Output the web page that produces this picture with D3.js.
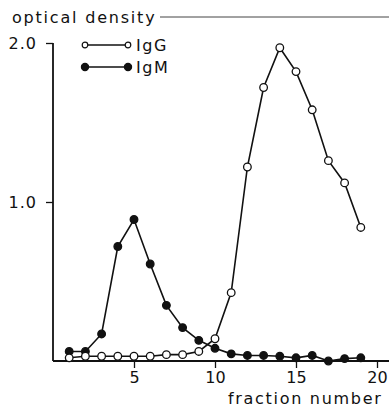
<!DOCTYPE html>
<html>
<head>
<meta charset="utf-8">
<script src="https://cdn.jsdelivr.net/npm/d3@7"></script>
<style>
body { margin: 0; background: #fff; }
text { font-family: "DejaVu Sans", sans-serif; fill: #111; }
</style>
</head>
<body>
<div id="area1"></div>
<script>
var fractions = [1,2,3,4,5,6,7,8,9,10,11,12,13,14,15,16,17,18,19];
var igg = [0.02,0.03,0.03,0.03,0.03,0.03,0.04,0.04,0.06,0.14,0.43,1.22,1.72,1.97,1.82,1.58,1.26,1.12,0.84];
var igm = [0.06,0.06,0.17,0.72,0.89,0.61,0.35,0.21,0.13,0.08,0.045,0.035,0.035,0.03,0.02,0.035,0.0,0.015,0.02];
var xTicks = [5,10,15,20];
var yTicks = [1.0,2.0];
var legendText = ["IgG","IgM"];

var width = 389, height = 407;

var svg = d3.select("#area1").append("svg")
	.attr("width", width)
	.attr("height", height);

var x = d3.scaleLinear().domain([0, 20]).range([53, 377]);
var y = d3.scaleLinear().domain([0, 2]).range([361, 43]);

// axes
svg.append("line")
	.attr("x1", x(0)).attr("x2", width)
	.attr("y1", y(0)).attr("y2", y(0))
	.style("stroke", "#111").style("stroke-width", 1.8);

svg.append("line")
	.attr("x1", x(0)).attr("x2", x(0))
	.attr("y1", y(2)).attr("y2", y(0))
	.style("stroke", "#111").style("stroke-width", 1.8);

var xAxis = svg.append("g")
	.attr("transform", "translate(0," + y(0) + ")")
	.call(d3.axisBottom(x).tickValues(xTicks).tickSize(7).tickFormat(d3.format("d")));
xAxis.select(".domain").remove();
xAxis.selectAll("line").style("stroke", "#111").style("stroke-width", 1.3);
xAxis.selectAll("text")
	.attr("y", 11)
	.style("font-size", "16px")
	.style("font-family", "DejaVu Sans")
	.style("fill", "#111");

var yAxis = svg.append("g")
	.attr("transform", "translate(" + x(0) + ",0)")
	.call(d3.axisLeft(y).tickValues(yTicks).tickSize(7).tickFormat(d3.format(".1f")));
yAxis.select(".domain").remove();
yAxis.selectAll("line").style("stroke", "#111").style("stroke-width", 1.3);
yAxis.selectAll("text")
	.attr("x", -16)
	.style("font-size", "16px")
	.style("letter-spacing", "1px")
	.style("font-family", "DejaVu Sans")
	.style("fill", "#111");

// titles
svg.append("text")
	.attr("x", 12).attr("y", 23)
	.style("font-size", "16px")
	.style("letter-spacing", "1.8px")
	.text("optical density");

svg.append("line")
	.attr("x1", 160).attr("x2", width)
	.attr("y1", 17).attr("y2", 17)
	.style("stroke", "#444").style("stroke-width", 1);

svg.append("text")
	.attr("x", 228).attr("y", 404)
	.style("font-size", "16px")
	.style("letter-spacing", "1.7px")
	.text("fraction number");

// series
var line = d3.line()
	.x(function(d) { return x(d[0]); })
	.y(function(d) { return y(d[1]); });

var series = [
	{ values: igm, fill: "#111" },
	{ values: igg, fill: "#fff" }
];

series.forEach(function(s) {
	var pts = fractions.map(function(f, i) { return [f, s.values[i]]; });
	svg.append("path")
		.attr("d", line(pts))
		.style("fill", "none")
		.style("stroke", "#111")
		.style("stroke-width", 1.6);
	svg.selectAll(null)
		.data(pts)
		.enter()
		.append("circle")
		.attr("cx", function(d) { return x(d[0]); })
		.attr("cy", function(d) { return y(d[1]); })
		.attr("r", 3.8)
		.style("fill", s.fill)
		.style("stroke", "#111")
		.style("stroke-width", 1.3);
});

// legend
var legend = svg.selectAll(".legend")
	.data(legendText)
	.enter()
	.append("g")
	.attr("class", "legend")
	.attr("transform", function(d, i) { return "translate(0," + (45 + i * 22) + ")"; });

legend.append("line")
	.attr("x1", 85).attr("x2", 128)
	.style("stroke", "#111").style("stroke-width", 1.4);

legend.selectAll("circle")
	.data(function(d, i) { return [i, i]; })
	.enter()
	.append("circle")
	.attr("cx", function(d, j) { return j == 0 ? 85 : 128; })
	.attr("r", function(d) { return d == 0 ? 2.8 : 3.6; })
	.style("fill", function(d) { return d == 0 ? "#fff" : "#111"; })
	.style("stroke", "#111")
	.style("stroke-width", 1.2);

legend.append("text")
	.attr("x", 136).attr("y", 6)
	.style("font-size", "16px")
	.style("letter-spacing", "1.5px")
	.text(function(d) { return d; });
</script>
</body>
</html>
